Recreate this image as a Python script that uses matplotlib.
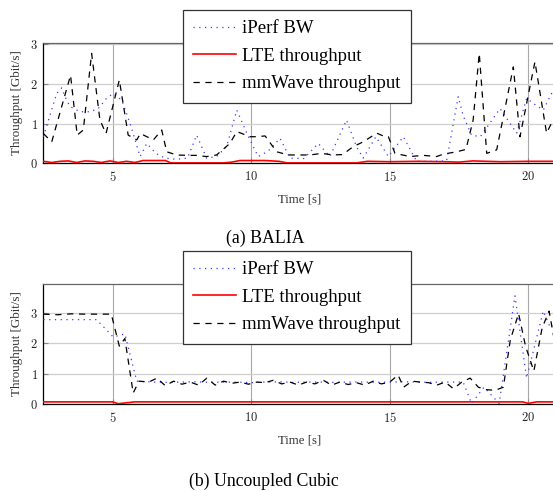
import matplotlib
matplotlib.use("Agg")
import matplotlib.pyplot as plt
from matplotlib.ticker import FixedLocator, FuncFormatter
from matplotlib.lines import Line2D

plt.rcParams["mathtext.fontset"] = "cm"
SERIF = ["Liberation Serif", "DejaVu Serif"]

# ---------------- (a) BALIA ----------------
balia_iperf_t = [2.5, 2.98, 3.16, 3.28, 3.46, 3.82, 4.18, 4.48, 4.78, 5.02, 5.33, 5.63,
                 5.99, 6.23, 6.56, 6.89, 7.3, 7.7, 8.03, 8.39, 8.75, 9.11, 9.48, 9.84,
                 10.25, 10.6, 11.04, 11.4, 11.9, 12.42, 12.84, 13.44, 13.8, 14.04, 14.5,
                 14.95, 15.49, 15.97, 16.5, 17.05, 17.47, 17.65, 17.95, 18.27, 18.6,
                 18.98, 19.58, 19.94, 20.2, 20.54, 20.84, 21.0]
balia_iperf_v = [0.67, 1.76, 1.9, 1.68, 1.43, 1.3, 1.3, 1.38, 1.64, 1.76, 1.59, 1.0,
                 0.17, 0.5, 0.25, 0.13, 0.1, 0.13, 0.71, 0.13, 0.17, 0.42, 1.34, 0.76,
                 0.17, 0.3, 0.63, 0.13, 0.12, 0.5, 0.17, 1.09, 0.42, 0.13, 0.67,
                 0.17, 0.67, 0.05, 0.05, 0.06, 1.68, 1.2, 0.71, 0.67, 1.0,
                 1.38, 0.76, 1.64, 1.5, 1.34, 1.76, 1.7]

balia_lte_t = [2.5, 2.8, 3.1, 3.4, 3.7, 4.0, 4.3, 4.6, 4.9, 5.2, 5.5, 5.8, 6.1, 6.5,
               6.9, 7.1, 8.0, 9.0, 9.3, 9.6, 10.0, 10.5, 11.0, 11.3, 12.0, 13.0, 13.8,
               14.2, 15.0, 16.0, 17.0, 17.5, 18.0, 19.0, 20.0, 21.0]
balia_lte_v = [0.05, 0.02, 0.05, 0.06, 0.02, 0.06, 0.05, 0.02, 0.06, 0.02, 0.05, 0.02,
               0.07, 0.07, 0.07, 0.01, 0.01, 0.01, 0.03, 0.07, 0.07, 0.07, 0.05, 0.01,
               0.01, 0.01, 0.01, 0.05, 0.04, 0.05, 0.04, 0.03, 0.06, 0.04, 0.05, 0.05]

balia_mmw_t = [2.5, 2.8, 3.48, 3.72, 3.94, 4.24, 4.54, 4.76, 5.24, 5.56, 5.87, 6.0,
               6.47, 6.77, 6.95, 7.31, 7.7, 8.0, 8.39, 8.75, 9.23, 9.48, 9.96, 10.2,
               10.5, 10.92, 11.34, 11.7, 12.12, 12.54, 12.96, 13.3, 13.68, 14.04,
               14.53, 14.83, 14.95, 15.19, 15.73, 16.21, 16.69, 16.93, 17.41, 17.75,
               18.01, 18.23, 18.5, 18.86, 19.46, 19.7, 20.24, 20.66, 20.9, 21.0]
balia_mmw_v = [0.75, 0.54, 2.22, 0.71, 0.84, 2.77, 1.09, 0.75, 2.10, 0.71, 0.59, 0.75,
               0.59, 0.84, 0.29, 0.21, 0.20, 0.20, 0.17, 0.21, 0.5, 0.8, 0.67, 0.67,
               0.69, 0.29, 0.21, 0.21, 0.21, 0.25, 0.21, 0.22, 0.42, 0.54,
               0.76, 0.67, 0.67, 0.25, 0.17, 0.2, 0.17, 0.23, 0.29, 0.35,
               1.09, 2.77, 0.25, 0.34, 2.43, 0.67, 2.56, 0.76, 1.1, 1.2]

# ---------------- (b) Uncoupled Cubic ----------------
cubic_iperf_t = [2.5, 3.0, 3.5, 4.0, 4.42, 5.02, 5.44, 5.87, 6.5, 7.0, 7.5, 8.0, 8.5,
                 9.0, 9.5, 10.0, 10.5, 11.0, 11.5, 12.0, 12.5, 13.0, 13.5, 14.0, 14.5,
                 15.0, 15.5, 16.0, 16.5, 17.0, 17.65, 17.95, 18.4, 18.95, 19.52, 19.94,
                 20.54, 20.8, 21.0]
cubic_iperf_v = [2.77, 2.77, 2.77, 2.77, 2.77, 2.2, 2.3, 0.75, 0.72, 0.71, 0.72, 0.73,
                 0.71, 0.72, 0.72, 0.7, 0.72, 0.73, 0.71, 0.72, 0.72, 0.71, 0.72, 0.72,
                 0.71, 0.72, 0.73, 0.72, 0.71, 0.72, 0.72, 0.02, 0.55, 0.02, 3.55, 0.85,
                 3.05, 2.5, 2.8]

cubic_lte_t = [2.5, 5.0, 5.2, 5.5, 5.8, 19.8, 20.0, 20.3, 21.0]
cubic_lte_v = [0.07, 0.07, 0.01, 0.04, 0.07, 0.07, 0.02, 0.07, 0.07]

cubic_mmw_t = [2.5, 3.0, 3.5, 4.0, 4.5, 4.95, 5.24, 5.44, 5.74, 5.95, 6.3, 6.6, 6.9,
               7.2, 7.5, 7.8, 8.1, 8.4, 8.7, 9.0, 9.3, 9.6, 9.9, 10.2, 10.5, 10.8,
               11.1, 11.4, 11.7, 12.0, 12.3, 12.6, 12.9, 13.2, 13.5, 13.8, 14.1, 14.4,
               14.7, 15.0, 15.3, 15.5, 15.8, 16.1, 16.4, 16.7, 17.0, 17.3, 17.6, 17.9,
               18.2, 18.5, 18.8, 19.1, 19.35, 19.65, 19.9, 20.2, 20.5, 20.75, 21.0]
cubic_mmw_v = [2.95, 2.93, 2.96, 2.95, 2.95, 2.95, 1.9, 2.15, 0.36, 0.75, 0.72, 0.85,
               0.6, 0.75, 0.65, 0.72, 0.62, 0.85, 0.62, 0.75, 0.68, 0.72, 0.65, 0.72,
               0.7, 0.78, 0.66, 0.72, 0.62, 0.72, 0.66, 0.78, 0.62, 0.72, 0.64, 0.7,
               0.62, 0.75, 0.66, 0.72, 0.95, 0.55, 0.75, 0.72, 0.7, 0.62, 0.72, 0.5,
               0.72, 0.85, 0.55, 0.47, 0.45, 0.55, 2.1, 2.97, 1.9, 1.08, 2.5, 3.05, 1.8]

x_ticks = [5, 10, 15, 20]
legend_labels = ["iPerf BW", "LTE throughput", "mmWave throughput"]

IPERF_STYLE = dict(color="#3a3aff", lw=0.9, linestyle=(0, (1.0, 3.6)))
LTE_STYLE = dict(color="#ff0000", lw=1.2, linestyle="-")
MMW_STYLE = dict(color="black", lw=0.9, linestyle=(0, (5.0, 4.5)))

W, H = 553, 491
fig = plt.figure(figsize=(W / 100, H / 100), dpi=100)


def px_axes(left, top, right, bottom):
    return fig.add_axes([left / W, 1 - bottom / H, (right - left) / W, (bottom - top) / H])


def style_axes(ax, ymax, yticks):
    ax.set_xlim(2.5, 21.0)
    ax.set_ylim(0, ymax)
    ax.xaxis.set_major_locator(FixedLocator(x_ticks))
    ax.yaxis.set_major_locator(FixedLocator(yticks))
    fmt = FuncFormatter(lambda v, p: r"$%d$" % round(v))
    ax.xaxis.set_major_formatter(fmt)
    ax.yaxis.set_major_formatter(fmt)
    ax.tick_params(axis="both", direction="in", length=3.5, width=0.8,
                   color="#888888", labelsize=9, labelcolor="#222222", pad=4)
    ax.tick_params(axis="x", pad=5)
    ax.grid(axis="y", color="#cfcfcf", lw=0.9)
    ax.grid(axis="x", color="#a8a8a8", lw=0.8)
    ax.set_axisbelow(True)
    ax.spines["left"].set_color("black")
    ax.spines["bottom"].set_color("black")
    ax.spines["top"].set_color("#666666")
    ax.spines["right"].set_color("#666666")
    for s in ax.spines.values():
        s.set_linewidth(0.9)
    ax.set_xlabel("Time [s]", family=SERIF, fontsize=9.2, color="#333333", labelpad=7)
    ax.set_ylabel("Throughput [Gbit/s]", family=SERIF, fontsize=9.4, color="#333333",
                  labelpad=5)


def draw(ax, it, iv, lt, lv, mt, mv):
    ax.plot(lt, lv, **LTE_STYLE, zorder=3)
    ax.plot(it, iv, **IPERF_STYLE, zorder=4)
    ax.plot(mt, mv, **MMW_STYLE, zorder=5)


def add_legend(top_px):
    handles = [Line2D([], [], **IPERF_STYLE), Line2D([], [], **LTE_STYLE),
               Line2D([], [], **MMW_STYLE)]
    leg = fig.legend(handles, legend_labels, loc="upper left",
                     bbox_to_anchor=(183 / W, 1 - top_px / H),
                     prop={"family": SERIF, "size": 13.5}, frameon=True,
                     fancybox=False, framealpha=1, edgecolor="#333333",
                     borderaxespad=0, borderpad=0.55, handlelength=2.3,
                     handletextpad=0.32, labelspacing=0.55)
    leg.get_frame().set_linewidth(0.9)
    leg.set_zorder(20)


ax1 = px_axes(43.4, 42.7, 556.0, 163.3)
style_axes(ax1, 3.04, [0, 1, 2, 3])
draw(ax1, balia_iperf_t, balia_iperf_v, balia_lte_t, balia_lte_v, balia_mmw_t, balia_mmw_v)
add_legend(10)
fig.text(265 / W, 1 - 238 / H, "(a) BALIA", family=SERIF, fontsize=12.8,
         ha="center", va="center")

ax2 = px_axes(43.4, 284.0, 556.0, 404.0)
style_axes(ax2, 3.94, [0, 1, 2, 3])
draw(ax2, cubic_iperf_t, cubic_iperf_v, cubic_lte_t, cubic_lte_v, cubic_mmw_t, cubic_mmw_v)
add_legend(251)
fig.text(264 / W, 1 - 481 / H, "(b) Uncoupled Cubic", family=SERIF, fontsize=12.8,
         ha="center", va="center")

fig.savefig("out.png", dpi=100)
